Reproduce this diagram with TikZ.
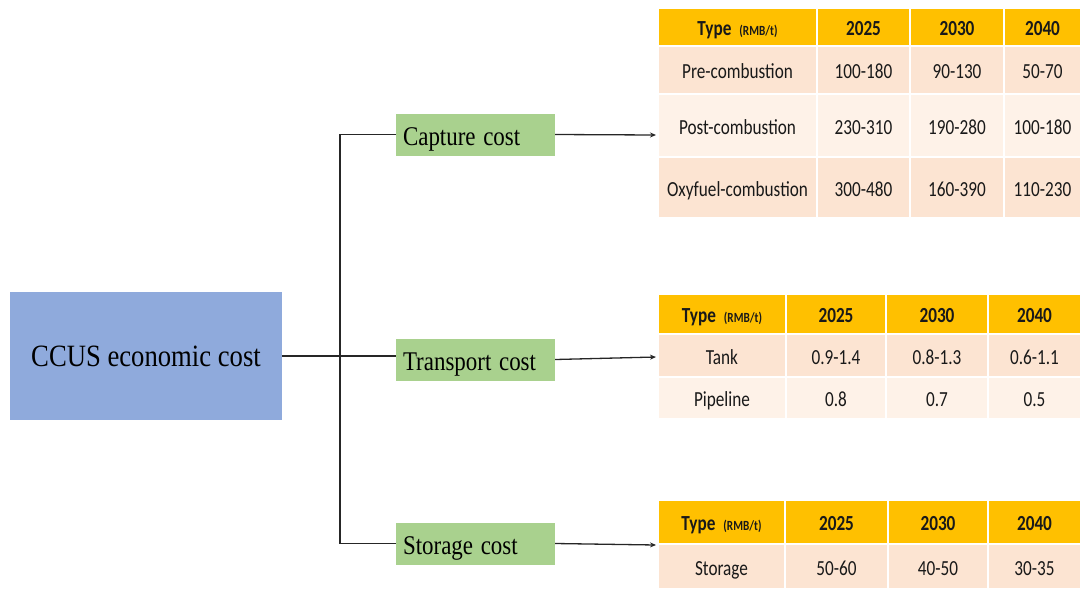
\documentclass[tikz,border=0pt]{standalone}
\usepackage{fontspec}
\usepackage{graphicx}
\usetikzlibrary{arrows.meta}
\newfontfamily\tnrfont{Liberation Serif}
\newfontfamily\calfont{Carlito}
\definecolor{hdr}{HTML}{FFC000}
\definecolor{rowA}{HTML}{FCE4D2}
\definecolor{rowB}{HTML}{FEF2E8}
\definecolor{greenbox}{HTML}{A9D18E}
\definecolor{bluebox}{HTML}{8FAADC}
\newcommand\tc[7]{\node[tcell,fill=#6,minimum width={(#4-#2)*1pt},minimum height={(#5-#3)*1pt}] (#1) at ({(#2+#4)/2},{(#3+#5)/2}) {\scalebox{0.8}[1]{#7}};}
\newcommand\hdrtype{{\bfseries Type}\hspace{10pt}{\fontsize{14}{15}\selectfont\bfseries (RMB/t)}}
\newcommand\sqz[2]{\scalebox{#1}[1]{#2}}
\begin{document}
\begin{tikzpicture}[x=1pt,y=-1pt,
  tcell/.style={draw=white,line width=1.2pt,inner sep=0pt,outer sep=0pt,
    text height=18pt,text depth=1pt,
    font=\calfont\fontsize{21.5}{24}\selectfont,text=black!90},
  costbox/.style={fill=greenbox,inner xsep=7pt,inner ysep=0pt,text width=145pt,
    text height=22pt,text depth=1pt,
    minimum height=42pt,align=left,font=\tnrfont\fontsize{27}{30}\selectfont},
  link/.style={line width=1.3pt,black!85},
  arr/.style={link,-{Stealth[length=6pt,width=5pt]}}]
\useasboundingbox (0,0) rectangle (1081,590);
% main box
\node[fill=bluebox,minimum width=272pt,minimum height=128pt,inner sep=0pt,
  font=\tnrfont\fontsize{31}{33}\selectfont] (ccus) at (146,356) {\sqz{0.86}{CCUS economic cost}};
% cost boxes
\node[costbox] (cap) at (475.5,134.5) {\sqz{0.85}{Capture cost}};
\node[costbox] (tra) at (475.5,359.5) {\sqz{0.85}{Transport cost}};
\node[costbox] (sto) at (475.5,543.5) {\sqz{0.85}{Storage cost}};
% tree connectors
\coordinate (jn) at (340,356);
\draw[link] (ccus.east |- jn) -- (jn);
\draw[link] (jn) -- (tra.west |- jn);
\draw[link] (jn) |- (cap.west);
\draw[link] (jn) |- (sto.west);
% table 1
\tc{a00}{658}{8}{817}{46}{hdr}{\hdrtype}
\tc{a01}{817}{8}{910}{46}{hdr}{\bfseries 2025}
\tc{a02}{910}{8}{1004}{46}{hdr}{\bfseries 2030}
\tc{a03}{1004}{8}{1081}{46}{hdr}{\bfseries 2040}
\tc{a10}{658}{46}{817}{94}{rowA}{Pre-combustion}
\tc{a11}{817}{46}{910}{94}{rowA}{100-180}
\tc{a12}{910}{46}{1004}{94}{rowA}{90-130}
\tc{a13}{1004}{46}{1081}{94}{rowA}{50-70}
\tc{a20}{658}{94}{817}{157}{rowB}{Post-combustion}
\tc{a21}{817}{94}{910}{157}{rowB}{230-310}
\tc{a22}{910}{94}{1004}{157}{rowB}{190-280}
\tc{a23}{1004}{94}{1081}{157}{rowB}{100-180}
\tc{a30}{658}{157}{817}{218}{rowA}{Oxyfuel-combustion}
\tc{a31}{817}{157}{910}{218}{rowA}{300-480}
\tc{a32}{910}{157}{1004}{218}{rowA}{160-390}
\tc{a33}{1004}{157}{1081}{218}{rowA}{110-230}
% table 2
\tc{b00}{658}{294}{786}{334}{hdr}{\hdrtype}
\tc{b01}{786}{294}{886}{334}{hdr}{\bfseries 2025}
\tc{b02}{886}{294}{988}{334}{hdr}{\bfseries 2030}
\tc{b03}{988}{294}{1081}{334}{hdr}{\bfseries 2040}
\tc{b10}{658}{334}{786}{377}{rowA}{Tank}
\tc{b11}{786}{334}{886}{377}{rowA}{0.9-1.4}
\tc{b12}{886}{334}{988}{377}{rowA}{0.8-1.3}
\tc{b13}{988}{334}{1081}{377}{rowA}{0.6-1.1}
\tc{b20}{658}{377}{786}{419}{rowB}{Pipeline}
\tc{b21}{786}{377}{886}{419}{rowB}{0.8}
\tc{b22}{886}{377}{988}{419}{rowB}{0.7}
\tc{b23}{988}{377}{1081}{419}{rowB}{0.5}
% table 3
\tc{c00}{658}{500}{785}{544}{hdr}{\hdrtype}
\tc{c01}{785}{500}{888}{544}{hdr}{\bfseries 2025}
\tc{c02}{888}{500}{988}{544}{hdr}{\bfseries 2030}
\tc{c03}{988}{500}{1081}{544}{hdr}{\bfseries 2040}
\tc{c10}{658}{544}{785}{589}{rowA}{Storage}
\tc{c11}{785}{544}{888}{589}{rowA}{50-60}
\tc{c12}{888}{544}{988}{589}{rowA}{40-50}
\tc{c13}{988}{544}{1081}{589}{rowA}{30-35}
% arrows to tables
\coordinate (capend) at (656,135);
\coordinate (traend) at (656,357);
\coordinate (stoend) at (656,545);
\draw[arr] (cap.east) -- (capend);
\draw[arr] (tra.east) -- (traend);
\draw[arr] (sto.east) -- (stoend);
\end{tikzpicture}
\end{document}
